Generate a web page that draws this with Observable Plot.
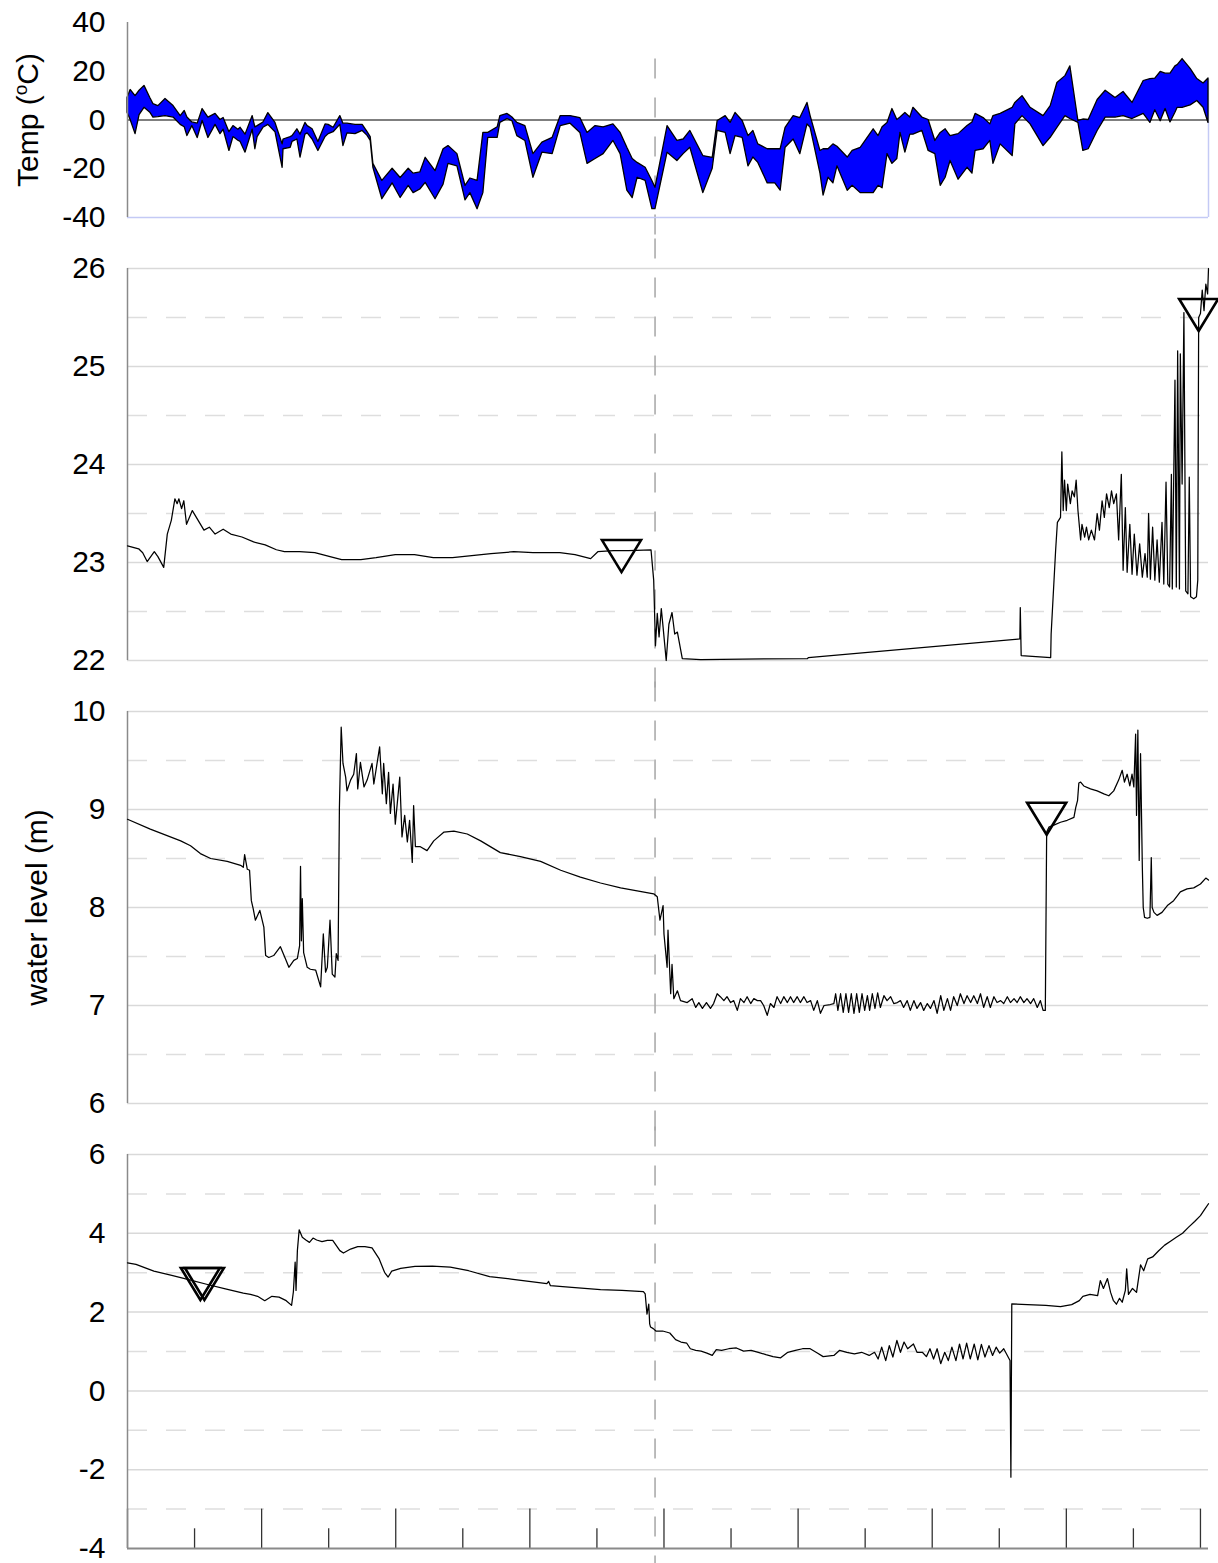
<!DOCTYPE html>
<html><head><meta charset="utf-8">
<script src="https://cdn.jsdelivr.net/npm/d3@7"></script>
<script src="https://cdn.jsdelivr.net/npm/@observablehq/plot@0.6"></script>
<style>
html,body{margin:0;padding:0;background:#fff;overflow:hidden;}
#chart svg{display:block;}
</style></head><body><div id="chart"></div>
<script>
// ---------- data (x = days from start of record) ----------
const xDomain = [0, 241.8];
const majorTickDays = [0, 30, 60, 90, 120, 150, 180, 210, 240];
const minorTickDays = [15, 45, 75, 105, 135, 165, 195, 225];
const markerDay = 118;

const tempTicks = [-40, -20, 0, 20, 40];
const p2Ticks = [22, 23, 24, 25, 26];
const p2Dashed = [22.5, 23.5, 24.5, 25.5];
const p3Ticks = [6, 7, 8, 9, 10];
const p3Dashed = [6.5, 7.5, 8.5, 9.5];
const p4Ticks = [-4, -2, 0, 2, 4, 6];
const p4Solid = [-2, 0, 2, 4, 6];
const p4Dashed = [-3, -1, 1, 3, 5];

const tempLabel = "Temp (oC)";
const levelLabel = "water level (m)";

// daily air temperature band: [day, max, min]
const tempBand = [[0,9,3],[0.7,12.3,0],[1.8,9.8,-5.8],[2.7,12,2],[3.8,14,5],[5.1,9,3],[5.8,6.5,1],[6.9,5.7,1.2],[8.5,8.6,1.6],[10.3,5.7,1],[11.9,1.6,-2],[12.8,3.7,-3],[13.4,1,-6.6],[14.5,-1,-2.5],[15.7,-1.5,-7.4],[16.8,4.5,-0.4],[18.1,1,-7.4],[19.7,2.5,-2],[20.8,0,-5.8],[21.5,0.8,-4],[22.8,-5,-12.7],[23.7,-2.5,-7],[24.8,-4,-8.5],[25.3,-3.2,-9],[26.4,-6,-13.4],[28.0,1.6,-4],[28.6,-3,-12],[29.1,-2.5,-7],[30.4,-1,-3.2],[31.5,2.8,-2],[33.1,-1.2,-5],[34.7,-10,-19.6],[34.9,-8,-12],[36.5,-7,-11.4],[36.9,-6.6,-9],[38.0,-3.8,-8],[38.7,-6,-15.4],[39.8,-1.2,-6],[40.3,-2.5,-5.5],[41.4,-3.8,-8],[42.7,-9,-12.7],[44.3,-1.8,-7],[45.0,-2,-5.8],[46.1,-3.2,-5],[47.6,1.6,-2],[48.3,-1.5,-10.7],[49.2,-1.5,-5.5],[51.0,-2,-5.8],[52.6,-2,-4.5],[53.7,-5,-6.5],[54.4,-7,-8.6],[55.0,-18,-19.6],[57.0,-25,-32.5],[59.3,-20,-26],[61.1,-23.8,-32],[62.9,-20,-27],[64.0,-22,-30],[65.5,-21.5,-28.5],[66.7,-15.5,-25.8],[68.9,-21,-32.5],[70.7,-12,-26.5],[71.8,-10.7,-18],[73.8,-14,-19],[75.6,-27,-33],[76.7,-24,-30],[78.3,-25,-36.6],[79.6,-5.3,-30],[80.7,-5.3,-7.3],[82.8,-3,-7.3],[83.4,1.6,-1.2],[85.0,2.5,0.4],[86.1,1,-0.5],[87.2,-1.2,-6.6],[89.0,-2.5,-8.6],[90.8,-14,-23.7],[92.8,-9.3,-13.4],[95.1,-7.3,-14],[96.9,1.6,-2.5],[99.1,1.6,-1.5],[101.3,0.8,-5.3],[102.9,-5.3,-18],[104.7,-2.5,-16],[106.5,-3,-14],[108.7,-1.8,-8.6],[110.3,-5.3,-14],[111.8,-11.4,-29],[113.0,-16,-32],[114.1,-17.6,-23.7],[115.9,-19.6,-25],[117.4,-25,-36.6],[118.1,-27.8,-36.6],[120.8,-2.5,-13.4],[123.0,-8.6,-16.8],[124.4,-8,-14],[125.9,-4.5,-11.4],[128.8,-14.8,-30],[130.9,-15.5,-20],[132.0,-0.4,-4.5],[133.8,1.6,-5.3],[134.9,-1.2,-14],[136.0,2.9,-6.6],[137.6,-0.4,-7.3],[138.9,-6.6,-19],[140.0,-4.5,-15.4],[141.1,-10,-17.6],[143.2,-12,-26],[144.9,-12,-26],[146.1,-12,-29],[147.2,-3.2,-11.4],[149.0,1.6,-8],[150.5,0.8,-14],[152.1,7,-1.8],[152.8,1.6,-3.2],[155.0,-12.7,-22],[155.7,-12,-31],[156.8,-12,-23.7],[157.9,-10,-26],[158.8,-11,-19],[161.1,-15.4,-29],[162.2,-12.7,-27],[164.0,-11.4,-30],[166.9,-3.8,-30],[168.0,-6.6,-27],[168.9,-3,-28],[170.0,-1.2,-14],[171.1,4.5,-18],[172.2,0,-16],[172.9,1,-5.3],[174.0,2.9,-13.4],[175.1,1,-6],[175.8,5,-6],[177.8,1,-4.5],[179.2,0,-12.7],[180.7,-8.6,-14],[181.9,-5.3,-27],[183.0,-3.8,-23.7],[184.1,-6.6,-16.8],[185.9,-5.8,-24.5],[187.9,-2.5,-19.6],[189.0,-1,-22],[189.7,2.5,-12.7],[191.5,0.8,-12],[193.0,-1.8,-8.6],[193.7,1.6,-18],[195.3,2.5,-10],[198.0,5,-14.8],[198.6,7,-1.8],[200.2,9.8,1.6],[202.0,5,-1.8],[204.9,1.6,-10.7],[206.5,5.7,-7.3],[208.0,15.2,-3.2],[209.8,18,1.6],[210.9,22,0.4],[212.7,-0.4,-1.2],[213.8,0.2,-12.7],[215.0,0,-12],[217.0,8.2,-4.5],[218.8,12,1],[221.0,9,1],[222.8,11.5,1.6],[224.8,7,0.4],[227.3,16,2.5],[228.8,16.8,-1.2],[229.9,17,4],[231.1,19.7,-0.5],[232.2,19,4.5],[233.3,19,-1],[234.4,22,3],[234.9,22.5,5],[236.0,25,5],[237.8,21,6],[239.3,16.8,7.8],[240.7,15,5],[241.8,17,-1.2]];

// well A water level: [day, level]
const wellA = [[0,23.17],[2.5,23.14],[3.4,23.10],[4.4,23.01],[6.0,23.11],[6.8,23.06],[8.1,22.95],[8.9,23.29],[9.8,23.43],[10.6,23.65],[11.1,23.60],[11.5,23.65],[12.1,23.55],[12.6,23.63],[13.2,23.39],[14.5,23.53],[15.8,23.43],[17.1,23.33],[18.3,23.36],[19.6,23.29],[21.4,23.34],[23.1,23.29],[25.6,23.26],[28.2,23.21],[30.8,23.18],[33.3,23.13],[35.1,23.11],[38.5,23.11],[41.9,23.10],[45.3,23.06],[47.9,23.03],[52.2,23.03],[55.6,23.05],[59.9,23.08],[64.2,23.08],[68.4,23.05],[72.7,23.05],[77.0,23.07],[81.3,23.09],[86.4,23.11],[90.7,23.10],[96.7,23.10],[100.1,23.08],[103.6,23.04],[105.2,23.11],[108.7,23.12],[112.1,23.12],[117.1,23.13],[117.7,22.82],[118.1,22.15],[118.5,22.48],[118.9,22.24],[119.4,22.53],[119.8,22.34],[120.5,22.00],[121.1,22.37],[121.8,22.49],[122.4,22.27],[123.0,22.29],[124.1,22.02],[128.2,22.01],[152.1,22.02],[152.3,22.03],[199.6,22.22],[199.7,22.54],[199.9,22.05],[206.5,22.03],[206.6,22.27],[207.6,23.12],[208.0,23.41],[208.7,23.46],[209.0,24.13],[209.3,23.53],[209.6,23.84],[210.0,23.53],[210.3,23.80],[210.9,23.60],[211.3,23.73],[211.8,23.67],[212.2,23.84],[212.6,23.53],[213.2,23.23],[213.5,23.39],[214.1,23.26],[214.5,23.36],[215.0,23.23],[215.6,23.33],[216.3,23.23],[216.9,23.50],[217.4,23.33],[218.0,23.63],[218.5,23.46],[219.0,23.70],[219.6,23.56],[220.1,23.73],[220.6,23.60],[221.2,23.70],[221.7,23.23],[222.3,23.90],[222.7,22.92],[223.2,23.56],[223.6,22.90],[224.2,23.39],[224.7,22.88],[225.2,23.29],[225.8,22.87],[226.4,23.19],[227.0,22.85],[227.6,23.09],[228.1,22.85],[228.4,23.50],[228.8,22.83],[229.3,23.36],[229.8,22.82],[230.3,23.23],[230.8,22.80],[231.4,23.41],[231.8,22.78],[232.3,23.82],[232.7,22.78],[233.1,22.75],[233.5,23.90],[233.7,22.73],[234.3,24.86],[234.6,22.75],[234.9,25.16],[235.3,22.73],[235.5,25.13],[235.9,23.80],[236.3,25.55],[236.7,22.71],[237.2,22.68],[237.5,23.87],[237.8,22.65],[238.5,22.63],[239.1,22.65],[239.4,22.82],[239.6,25.50],[240.0,25.54],[240.4,25.78],[240.8,25.57],[241.2,25.84],[241.6,25.74],[241.8,26.00]];

// well B water level
const wellB = [[0,8.90],[5.1,8.80],[11.9,8.68],[14.1,8.63],[16.3,8.55],[18.6,8.50],[22.3,8.47],[25.3,8.43],[25.9,8.41],[26.2,8.54],[26.8,8.39],[27.3,8.38],[27.7,8.07],[28.1,7.99],[28.6,7.87],[29.6,7.97],[30.5,7.80],[30.9,7.51],[31.6,7.49],[32.7,7.51],[34.2,7.60],[35.3,7.48],[36.1,7.39],[37.2,7.46],[38.0,7.48],[38.5,7.61],[38.7,8.42],[38.9,7.66],[39.1,8.09],[39.4,7.54],[40.2,7.39],[40.9,7.37],[42.1,7.36],[43.2,7.19],[43.8,7.73],[44.3,7.34],[44.7,7.39],[45.3,7.87],[45.8,7.32],[46.4,7.29],[46.7,7.53],[47.1,7.46],[47.4,9.02],[47.8,9.84],[48.2,9.47],[48.8,9.33],[49.1,9.19],[49.9,9.30],[50.6,9.36],[51.2,9.57],[51.5,9.21],[52.1,9.48],[52.9,9.23],[53.6,9.30],[54.7,9.47],[55.1,9.26],[56.4,9.64],[57.0,9.16],[57.3,9.47],[57.9,9.06],[58.4,9.38],[58.8,8.96],[59.4,9.26],[59.9,8.85],[60.9,9.33],[61.4,8.72],[62.0,8.94],[62.6,8.67],[63.1,8.89],[63.7,8.46],[64.0,9.04],[64.4,8.62],[65.5,8.62],[67.0,8.58],[68.5,8.68],[70.8,8.77],[73.0,8.78],[76.0,8.75],[79.0,8.68],[83.4,8.56],[87.9,8.52],[92.4,8.47],[96.9,8.38],[101.3,8.31],[105.8,8.25],[110.3,8.20],[114.0,8.17],[117.7,8.14],[118.5,8.11],[119.1,7.87],[119.8,8.02],[120.0,7.73],[120.7,7.39],[120.9,7.77],[121.5,7.12],[121.8,7.42],[122.2,7.07],[123.0,7.15],[123.7,7.05],[125.2,7.03],[126.3,7.07],[127.1,6.98],[127.8,7.03],[128.6,6.97],[129.5,7.03],[130.4,6.97],[131.1,7.02],[131.9,7.12],[132.6,7.09],[133.4,7.05],[134.1,7.09],[134.9,7.03],[135.6,7.05],[136.4,6.95],[137.1,7.07],[137.9,7.03],[138.6,7.09],[139.4,7.02],[140.1,7.07],[140.9,7.05],[141.6,7.05],[142.3,7.00],[143.1,6.90],[143.8,7.02],[144.6,6.98],[145.3,7.09],[146.1,7.02],[146.8,7.09],[147.6,7.03],[148.3,7.09],[149.0,7.03],[149.8,7.09],[150.5,7.03],[151.3,7.09],[152.0,7.03],[152.8,7.05],[153.5,6.95],[154.3,7.05],[155.0,6.92],[155.8,7.00],[157.2,7.01],[158.0,7.02],[158.4,7.12],[158.9,6.95],[159.5,7.12],[160.1,6.93],[160.7,7.12],[161.3,6.93],[161.9,7.12],[162.5,6.92],[163.1,7.12],[163.7,6.93],[164.3,7.12],[164.9,6.95],[165.5,7.10],[166.0,6.95],[166.6,7.12],[167.2,6.97],[167.8,7.13],[168.4,6.98],[169.2,7.10],[169.9,7.05],[170.7,7.09],[171.4,7.02],[172.2,7.03],[172.9,7.05],[173.6,6.98],[174.4,7.05],[175.1,6.95],[175.9,7.05],[176.6,6.97],[177.4,7.03],[178.1,6.95],[178.9,7.02],[179.6,6.97],[180.4,7.05],[181.1,6.92],[181.9,7.10],[182.6,6.95],[183.4,7.07],[184.1,6.95],[184.8,7.09],[185.6,7.00],[186.3,7.12],[187.1,7.02],[187.8,7.10],[188.6,7.03],[189.3,7.10],[190.1,7.02],[190.8,7.12],[191.5,6.98],[192.3,7.09],[193.0,6.98],[193.8,7.09],[194.5,7.03],[195.3,7.05],[196.0,7.02],[196.8,7.09],[197.5,7.03],[198.3,7.07],[199.0,7.03],[199.7,7.09],[200.5,7.03],[201.2,7.07],[202.0,7.02],[202.7,7.07],[203.5,6.98],[204.2,7.05],[204.8,6.95],[205.3,6.95],[205.6,8.77],[206.1,8.82],[207.2,8.84],[208.7,8.87],[210.2,8.89],[211.7,8.92],[212.1,9.02],[212.5,9.09],[212.8,9.27],[213.2,9.28],[213.9,9.24],[215.4,9.21],[216.9,9.19],[218.4,9.16],[219.5,9.14],[220.6,9.19],[221.7,9.30],[222.5,9.40],[223.0,9.28],[223.6,9.36],[224.2,9.24],[224.7,9.36],[225.1,9.23],[225.5,9.77],[225.7,8.94],[226.0,9.81],[226.3,8.48],[226.6,9.57],[227.0,8.41],[227.2,8.00],[227.5,7.90],[228.1,7.89],[228.7,7.90],[229.0,8.51],[229.2,8.00],[229.6,7.95],[230.3,7.92],[231.4,7.95],[232.6,8.02],[234.0,8.07],[235.5,8.16],[237.0,8.19],[238.5,8.20],[240.0,8.24],[241.2,8.30],[241.8,8.28]];

// well C water level
const wellC = [[0,3.25],[1.9,3.21],[5.9,3.04],[9.9,2.93],[13.9,2.82],[17.9,2.70],[21.9,2.59],[25.9,2.48],[27.5,2.45],[29.1,2.40],[30.7,2.29],[32.3,2.40],[33.9,2.38],[35.5,2.29],[36.7,2.17],[37.1,2.51],[37.5,3.27],[37.7,2.55],[38.0,3.56],[38.4,4.09],[39.1,3.90],[39.9,3.83],[40.7,3.77],[41.5,3.88],[42.3,3.83],[43.5,3.79],[44.7,3.82],[45.9,3.82],[47.5,3.56],[48.3,3.50],[49.9,3.60],[51.5,3.66],[53.1,3.66],[54.7,3.63],[56.3,3.35],[57.5,3.01],[58.3,2.89],[59.1,3.04],[61.1,3.11],[64.3,3.16],[68.2,3.17],[72.2,3.14],[76.3,3.05],[81.0,2.90],[85.8,2.84],[89.8,2.78],[93.8,2.72],[94.2,2.78],[94.6,2.67],[99.4,2.63],[105.8,2.57],[110.6,2.55],[115.4,2.52],[115.8,2.46],[116.2,1.95],[116.6,2.20],[116.8,1.70],[117.0,1.62],[117.6,1.58],[118.2,1.52],[119.7,1.52],[121.3,1.47],[122.6,1.30],[123.8,1.24],[125.1,1.21],[125.9,1.07],[127.1,1.03],[128.3,1.01],[129.6,0.96],[130.8,0.90],[131.7,1.05],[132.9,1.03],[134.5,1.07],[136.2,1.09],[137.8,1.01],[139.5,1.03],[141.1,0.98],[142.8,0.92],[144.4,0.87],[146.1,0.84],[147.7,0.98],[149.4,1.03],[151.0,1.07],[152.7,1.07],[154.3,0.96],[155.6,0.87],[158.0,0.90],[159.3,1.03],[160.9,0.98],[162.6,0.94],[164.2,0.98],[165.9,0.90],[167.1,0.98],[167.9,0.81],[168.7,1.11],[169.6,0.77],[170.4,1.15],[171.2,0.86],[172.1,1.28],[172.9,0.98],[173.7,1.24],[174.5,1.07],[175.8,1.19],[176.6,0.98],[177.8,0.98],[178.7,0.87],[179.5,1.07],[180.3,0.81],[181.1,1.07],[181.9,0.69],[182.8,0.98],[183.6,0.77],[184.4,1.11],[185.3,0.77],[186.1,1.19],[186.9,0.81],[187.7,1.21],[188.5,0.81],[189.4,1.19],[190.2,0.79],[191.0,1.18],[191.8,0.86],[192.7,1.15],[193.5,0.90],[194.3,1.11],[195.1,0.96],[196.0,1.07],[196.8,0.90],[197.4,0.77],[197.6,-2.19],[197.8,2.21],[201.3,2.19],[205.4,2.17],[208.7,2.14],[211.2,2.19],[212.9,2.29],[213.7,2.40],[215.3,2.45],[217.0,2.42],[217.6,2.80],[218.3,2.60],[219.2,2.85],[219.9,2.50],[220.5,2.30],[221.2,2.20],[221.9,2.35],[222.5,2.25],[223.2,2.55],[223.5,3.10],[223.9,2.45],[224.8,2.60],[225.7,2.50],[226.6,3.20],[227.3,3.05],[228.2,3.35],[229.3,3.40],[230.6,3.55],[232.0,3.70],[233.3,3.80],[234.6,3.90],[236.0,4.00],[237.3,4.15],[238.7,4.30],[240.0,4.45],[240.9,4.60],[241.8,4.75]];

// manual measurements (inverted triangles): [day, level]
const manualA = [[110.5, 23.12], [239.6, 25.58]];
const manualB = [[205.6, 8.96]];
const manualC = [[16.3, 2.85], [17.2, 2.85]];

// ---------- drawing ----------
const FONT = "Arial, 'Liberation Sans', sans-serif";
const FS = 30;
const W = 1218, ML = 127, MR = 10;
const GRID = "#d9d9d9", GRID_D = "#dedede", AXIS = "#8a8a8a", VDASH = "#a6a6a6";

const triDown = {
  draw(ctx, size) {
    const r = Math.sqrt(size / Math.PI);
    const h = 2 * r, w = 1.22 * r;
    ctx.moveTo(-w, -h / 3);
    ctx.lineTo(w, -h / 3);
    ctx.lineTo(0, 2 * h / 3);
    ctx.closePath();
  }
};

function yScale(domain, ticks) {
  return {domain, ticks, tickSize: 0, tickPadding: 22, tickFormat: d => String(d), label: null};
}
function basePlot(o) {
  return Plot.plot({
    width: W, marginLeft: ML, marginRight: MR,
    x: {domain: xDomain, axis: null},
    style: {fontFamily: FONT, fontSize: FS + "px", color: "black", background: "white", display: "block", overflow: "visible"},
    ...o
  });
}
const levelRows = arr => arr.map(([day, level]) => ({day, level}));
function markers(arr) {
  return Plot.dot(levelRows(arr), {x: "day", y: "level", symbol: triDown, r: 16, fill: "none", stroke: "black", strokeWidth: 2.6});
}
function levelLine(arr) {
  return Plot.line(levelRows(arr), {x: "day", y: "level", stroke: "black", strokeWidth: 1.25});
}
function gridMarks(solid, dashed) {
  return [
    Plot.ruleY(solid, {stroke: GRID, strokeWidth: 1.5}),
    Plot.ruleY(dashed, {stroke: GRID_D, strokeWidth: 1.5, strokeDasharray: "20,19"})
  ];
}
function vdash(top, bottom) {
  return Plot.ruleX([markerDay], {y1: top, y2: bottom, stroke: VDASH, strokeWidth: 1.5, strokeDasharray: "20,19"});
}
const leftAxis = Plot.ruleX([xDomain[0]], {stroke: AXIS, strokeWidth: 1.5});

// Panel 1: temperature
const tempRows = tempBand.map(([day, tmax, tmin]) => ({day, tmax, tmin}));
const p1 = basePlot({
  height: 243, marginTop: 22, marginBottom: 26,
  y: yScale([-40, 40], tempTicks),
  marks: [
    vdash(25, -51),
    Plot.ruleY([-40], {stroke: "#c4caf5", strokeWidth: 1.5}),
    Plot.ruleX([xDomain[1]], {y1: 16.8, y2: -40, stroke: "#c4caf5", strokeWidth: 1.5}),
    Plot.ruleY([0], {stroke: "#555", strokeWidth: 1.5}),
    Plot.areaY(tempRows, {x: "day", y1: "tmin", y2: "tmax", fill: "#0000ff", stroke: "black", strokeWidth: 1.3, strokeLinejoin: "round"}),
    leftAxis,
    Plot.text([tempLabel], {frameAnchor: "left", text: d => d, rotate: -90, dx: -99, fontSize: FS, textAnchor: "middle", lineAnchor: "middle"})
  ]
});

// Panel 2
const p2 = basePlot({
  height: 443, marginTop: 25, marginBottom: 26,
  y: yScale([22, 26], p2Ticks),
  marks: [
    ...gridMarks(p2Ticks, p2Dashed),
    vdash(26.3, 21.7),
    leftAxis,
    levelLine(wellA),
    markers(manualA)
  ]
});

// Panel 3
const p3 = basePlot({
  height: 443, marginTop: 25, marginBottom: 26,
  y: yScale([6, 10], p3Ticks),
  marks: [
    ...gridMarks(p3Ticks, p3Dashed),
    vdash(10.3, 5.7),
    leftAxis,
    levelLine(wellB),
    markers(manualB),
    Plot.text([levelLabel], {frameAnchor: "left", text: d => d, rotate: -90, dx: -90, fontSize: FS, textAnchor: "middle", lineAnchor: "middle"})
  ]
});

// Panel 4
const p4 = basePlot({
  height: 434, marginTop: 25, marginBottom: 15,
  y: yScale([-4, 6], p4Ticks),
  marks: [
    ...gridMarks(p4Solid, p4Dashed),
    vdash(6.7, -4.4),
    Plot.ruleX(majorTickDays, {y1: -4, y2: -3, stroke: "#333", strokeWidth: 1.3}),
    Plot.ruleX(minorTickDays, {y1: -4, y2: -3.5, stroke: "#333", strokeWidth: 1.3}),
    Plot.ruleY([-4], {stroke: AXIS, strokeWidth: 2}),
    leftAxis,
    levelLine(wellC),
    markers(manualC)
  ]
});

const chart = document.getElementById("chart");
[p1, p2, p3, p4].forEach(p => chart.appendChild(p));

// superscript "o" in the temperature label
p1.querySelectorAll("text").forEach(t => {
  if (t.textContent === tempLabel) {
    const ns = "http://www.w3.org/2000/svg";
    t.textContent = "";
    const a = document.createElementNS(ns, "tspan"); a.textContent = "Temp (";
    const b = document.createElementNS(ns, "tspan"); b.textContent = "o";
    b.setAttribute("font-size", "19"); b.setAttribute("dy", "-11");
    const c = document.createElementNS(ns, "tspan"); c.textContent = "C)";
    c.setAttribute("dy", "11");
    t.append(a, b, c);
  }
});
</script></body></html>
